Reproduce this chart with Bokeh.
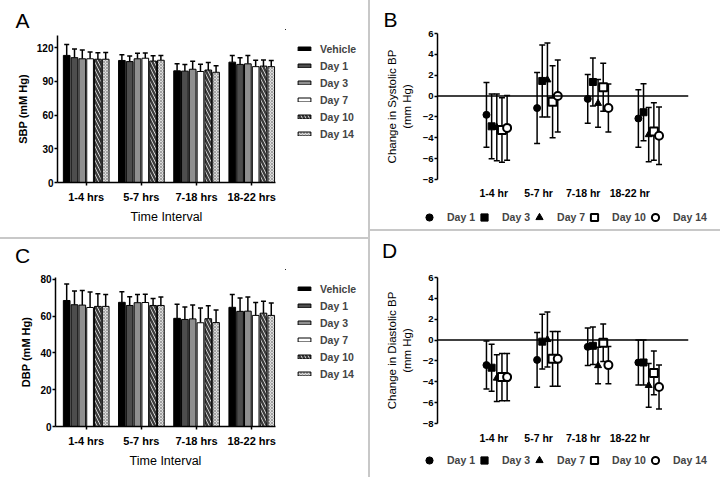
from bokeh.plotting import figure
from bokeh.models import (Range1d, FixedTicker, Whisker, TeeHead, Legend, LegendItem,
                          Span, Div, ColumnDataSource)
from bokeh.layouts import row, column
from bokeh.embed import file_html
from bokeh.resources import INLINE

FONT = "Liberation Sans"

# ---------------- data ----------------
bar_intervals = ["1-4 hrs", "5-7 hrs", "7-18 hrs", "18-22 hrs"]
pt_intervals = ["1-4 hr", "5-7 hr", "7-18 hr", "18-22 hr"]
bar_series = ["Vehicle", "Day 1", "Day 3", "Day 7", "Day 10", "Day 14"]
pt_series = ["Day 1", "Day 3", "Day 7", "Day 10", "Day 14"]

# Panel A: SBP (mM Hg), mean and SD (upper bar)
sbp_vehicle = [113.0, 108.5, 99.3, 107.0]
sbp_day1 = [111.0, 107.5, 99.0, 105.0]
sbp_day3 = [110.0, 110.0, 100.7, 105.5]
sbp_day7 = [110.0, 110.5, 98.7, 103.0]
sbp_day10 = [109.6, 108.0, 100.0, 103.5]
sbp_day14 = [109.6, 108.7, 98.0, 103.0]
sbp_err_vehicle = [9.7, 5.0, 6.2, 6.0]
sbp_err_day1 = [7.7, 5.0, 6.0, 6.0]
sbp_err_day3 = [7.7, 5.0, 7.0, 7.4]
sbp_err_day7 = [6.0, 4.7, 6.5, 5.6]
sbp_err_day10 = [5.7, 4.8, 6.7, 5.4]
sbp_err_day14 = [6.0, 4.3, 5.7, 5.5]

# Panel C: DBP (mM Hg)
dbp_vehicle = [68.5, 67.5, 58.8, 64.8]
dbp_day1 = [66.2, 65.8, 58.2, 62.6]
dbp_day3 = [66.0, 67.3, 58.5, 62.7]
dbp_day7 = [64.7, 67.4, 56.4, 60.4]
dbp_day10 = [65.3, 65.8, 58.6, 61.6]
dbp_day14 = [65.3, 65.8, 56.5, 60.4]
dbp_err_vehicle = [9.0, 5.7, 7.6, 7.0]
dbp_err_day1 = [7.4, 4.8, 6.7, 7.3]
dbp_err_day3 = [8.0, 4.5, 7.6, 7.7]
dbp_err_day7 = [8.4, 4.5, 8.0, 7.0]
dbp_err_day10 = [6.8, 3.8, 7.0, 6.5]
dbp_err_day14 = [6.5, 4.6, 6.8, 6.7]

# Panel B: change in systolic BP (mm Hg), mean and SD
dsbp_day1 = [-1.8, -1.15, -0.27, -2.15]
dsbp_day3 = [-2.9, 1.45, 1.35, -1.55]
dsbp_day7 = [-3.0, 1.55, -0.7, -3.7]
dsbp_day10 = [-3.25, -0.55, 0.85, -3.4]
dsbp_day14 = [-3.05, 0.0, -1.15, -3.8]
dsbp_sd_day1 = [3.1, 3.4, 2.33, 2.75]
dsbp_sd_day3 = [3.1, 3.45, 2.3, 2.73]
dsbp_sd_day7 = [3.2, 3.55, 2.3, 2.6]
dsbp_sd_day10 = [3.1, 3.45, 2.3, 2.75]
dsbp_sd_day14 = [3.1, 3.45, 2.3, 2.75]

# Panel D: change in diastolic BP (mm Hg)
ddbp_day1 = [-2.4, -1.9, -0.65, -2.15]
ddbp_day3 = [-2.65, -0.15, -0.55, -2.15]
ddbp_day7 = [-3.65, 0.05, -2.45, -4.35]
ddbp_day10 = [-3.55, -1.8, -0.25, -3.15]
ddbp_day14 = [-3.55, -1.8, -2.4, -4.5]
ddbp_sd_day1 = [2.3, 2.62, 1.8, 2.15]
ddbp_sd_day3 = [2.25, 2.62, 1.8, 2.15]
ddbp_sd_day7 = [2.25, 2.63, 1.75, 2.1]
ddbp_sd_day10 = [2.27, 2.63, 1.8, 2.1]
ddbp_sd_day14 = [2.27, 2.63, 1.78, 2.1]

bar_yticks_a = [0, 30, 60, 90, 120]
bar_yticks_c = [0, 20, 40, 60, 80]
pt_yticks = [-8, -6, -4, -2, 0, 2, 4, 6]
pt_label_pos = [0.145, 1.03, 1.91, 2.83]

# ---------------- styles ----------------
bar_styles = [
    dict(fill_color="black"),
    dict(fill_color="#4d4d4d"),
    dict(fill_color="#8f8f8f"),
    dict(fill_color="white"),
    dict(fill_color="white", hatch_pattern="\\", hatch_color="#3c3c3c",
         hatch_weight=2.5, hatch_scale=7),
    dict(fill_color="#dcdcdc", hatch_pattern="x", hatch_color="#8a8a8a",
         hatch_weight=0.7, hatch_scale=3),
]
pt_styles = [
    dict(marker="circle", size=7, fill_color="black", line_width=1),
    dict(marker="square", size=7, fill_color="black", line_width=1),
    dict(marker="triangle", size=7, fill_color="black", line_width=1),
    dict(marker="square", size=8, fill_color="white", line_width=2),
    dict(marker="circle", size=8, fill_color="white", line_width=2),
]


def style_axes(p):
    p.grid.visible = False
    p.outline_line_color = None
    p.background_fill_color = "white"
    p.border_fill_color = "white"
    for ax in (p.xaxis[0], p.yaxis[0]):
        ax.axis_line_width = 1.5
        ax.axis_line_color = "black"
        ax.major_tick_line_width = 1.5
        ax.major_tick_out = 3
        ax.major_tick_in = 0
        ax.minor_tick_line_color = None
        ax.major_label_text_font = FONT
        ax.major_label_text_font_style = "bold"
        ax.major_label_text_color = "black"
        ax.axis_label_text_font = FONT
        ax.axis_label_text_color = "black"


def set_letter(p, letter, offset, standoff, valign):
    p.title.text = letter
    p.title.align = "left"
    p.title.offset = offset
    p.title.standoff = standoff
    p.title.vertical_align = valign
    p.title.text_font = FONT
    p.title.text_font_size = "21px"
    p.title.text_font_style = "normal"
    p.title.text_color = "black"


def letter_div(letter, width, height, left, top):
    html = ('<div style="font-family:\'Liberation Sans\',Arial,sans-serif;font-size:21px;'
            'line-height:21px;color:black;padding-left:%dpx;padding-top:%dpx;">%s</div>'
            % (left, top, letter))
    return Div(text=html, width=width, height=height, margin=0)


def legend_fig(width, height, sources, draw_fn, names, orientation, gw, gh, lh,
               standoff, margin):
    # legend-only figure; its glyphs reuse the panel data but the ranges keep them off-frame
    f = figure(width=width, height=height, output_backend="svg", toolbar_location=None,
               x_range=Range1d(100, 101), y_range=Range1d(-1001, -1000),
               x_axis_type=None, y_axis_type=None,
               min_border_left=0, min_border_right=0, min_border_top=0, min_border_bottom=0)
    f.grid.visible = False
    f.outline_line_color = None
    f.border_fill_color = "white"
    f.background_fill_color = "white"
    items = []
    for j, name in enumerate(names):
        r = draw_fn(f, sources[j], j)
        items.append(LegendItem(label=name, renderers=[r]))
    leg = Legend(items=items, location="top_left", orientation=orientation,
                 glyph_width=gw, glyph_height=gh, label_height=lh, spacing=0,
                 padding=0, margin=margin, border_line_color=None, background_fill_alpha=0,
                 label_standoff=standoff, label_text_font=FONT, label_text_font_style="bold",
                 label_text_font_size="10.5px")
    f.add_layout(leg)
    return f


def draw_bar(f, src, j):
    return f.vbar(x="x", top="top", width=0.121, source=src, line_color="black",
                  line_width=1, **bar_styles[j])


def draw_pt(f, src, j):
    return f.scatter(x="x", y="y", source=src, line_color="black", **pt_styles[j])


def bar_panel(width, height, mb, x_range, y_end, yticks, ylabel, means, errs,
              letter=None, letter_cfg=None):
    p = figure(width=width, height=height, output_backend="svg", toolbar_location=None,
               x_range=Range1d(*x_range), y_range=Range1d(0, y_end),
               min_border_left=mb[0], min_border_right=mb[1],
               min_border_top=mb[2], min_border_bottom=mb[3])
    style_axes(p)
    if letter is not None:
        set_letter(p, letter, *letter_cfg)
    pitch = 0.1413
    sources = []
    for j, name in enumerate(bar_series):
        xs = [i + (j - 2.5) * pitch for i in range(len(bar_intervals))]
        src = ColumnDataSource(dict(x=xs, top=means[j],
                                    up=[m + e for m, e in zip(means[j], errs[j])]))
        sources.append(src)
        w = Whisker(source=src, base="x", lower="top", upper="up", line_width=1.5,
                    line_color="black", lower_head=None,
                    upper_head=TeeHead(size=5, line_width=1.5, line_color="black"))
        p.add_layout(w)
        draw_bar(p, src, j)

    p.xaxis.ticker = FixedTicker(ticks=list(range(len(bar_intervals))))
    p.xaxis.major_label_overrides = {i: t for i, t in enumerate(bar_intervals)}
    p.xaxis.major_label_text_font_size = "11px"
    p.xaxis.major_label_standoff = 5
    p.xaxis.axis_label = "Time Interval"
    p.xaxis.axis_label_text_font_size = "12.5px"
    p.xaxis.axis_label_text_font_style = "normal"
    p.xaxis.axis_label_standoff = 4

    p.yaxis.ticker = FixedTicker(ticks=yticks)
    p.yaxis.major_label_text_font_size = "10px"
    p.yaxis.major_label_standoff = 1
    p.yaxis.axis_label = ylabel
    p.yaxis.axis_label_text_font_size = "11px"
    p.yaxis.axis_label_text_font_style = "bold"
    p.yaxis.axis_label_standoff = 5
    return p, sources


def pt_panel(width, height, mb, ylabel, means, sds, label_standoff,
             letter=None, letter_cfg=None):
    p = figure(width=width, height=height, output_backend="svg", toolbar_location=None,
               x_range=Range1d(-0.967, 3.99), y_range=Range1d(-8, 6),
               min_border_left=mb[0], min_border_right=mb[1],
               min_border_top=mb[2], min_border_bottom=mb[3])
    style_axes(p)
    if letter is not None:
        set_letter(p, letter, *letter_cfg)
    p.add_layout(Span(location=0, dimension="width", line_color="black", line_width=1.5))
    sources = []
    for j, name in enumerate(pt_series):
        xs = [i + 0.102 * j for i in range(len(pt_intervals))]
        src = ColumnDataSource(dict(x=xs, y=means[j],
                                    lo=[m - s for m, s in zip(means[j], sds[j])],
                                    hi=[m + s for m, s in zip(means[j], sds[j])]))
        sources.append(src)
        w = Whisker(source=src, base="x", lower="lo", upper="hi", line_width=1.5,
                    line_color="black",
                    upper_head=TeeHead(size=6, line_width=1.5, line_color="black"),
                    lower_head=TeeHead(size=6, line_width=1.5, line_color="black"))
        p.add_layout(w)
        draw_pt(p, src, j)

    p.xaxis.ticker = FixedTicker(ticks=pt_label_pos)
    p.xaxis.major_label_overrides = {v: t for v, t in zip(pt_label_pos, pt_intervals)}
    p.xaxis.axis_line_color = None
    p.xaxis.major_tick_line_color = None
    p.xaxis.major_tick_out = 0
    p.xaxis.major_label_standoff = label_standoff
    p.xaxis.major_label_text_font_size = "10.5px"

    p.yaxis.ticker = FixedTicker(ticks=pt_yticks)
    p.yaxis.major_label_text_font_size = "9.5px"
    p.yaxis.major_label_standoff = 1
    p.yaxis.axis_label = ylabel
    p.yaxis.axis_label_text_font_size = "11.5px"
    p.yaxis.axis_label_text_font_style = "normal"
    p.yaxis.axis_label_standoff = 7
    return p, sources


sbp_means = [sbp_vehicle, sbp_day1, sbp_day3, sbp_day7, sbp_day10, sbp_day14]
sbp_errs = [sbp_err_vehicle, sbp_err_day1, sbp_err_day3, sbp_err_day7, sbp_err_day10, sbp_err_day14]
dbp_means = [dbp_vehicle, dbp_day1, dbp_day3, dbp_day7, dbp_day10, dbp_day14]
dbp_errs = [dbp_err_vehicle, dbp_err_day1, dbp_err_day3, dbp_err_day7, dbp_err_day10, dbp_err_day14]
dsbp_means = [dsbp_day1, dsbp_day3, dsbp_day7, dsbp_day10, dsbp_day14]
dsbp_sds = [dsbp_sd_day1, dsbp_sd_day3, dsbp_sd_day7, dsbp_sd_day10, dsbp_sd_day14]
ddbp_means = [ddbp_day1, ddbp_day3, ddbp_day7, ddbp_day10, ddbp_day14]
ddbp_sds = [ddbp_sd_day1, ddbp_sd_day3, ddbp_sd_day7, ddbp_sd_day10, ddbp_sd_day14]


def spacer(w, h):
    return Div(text="", width=w, height=h, margin=0)


# left column
pA, srcA = bar_panel(285, 237, (57, 10, 35, 55), (-0.52, 3.43), 130.7, bar_yticks_a,
                     "SBP (mM Hg)", sbp_means, sbp_errs, "A", (-42, 8, "bottom"))
legA = legend_fig(83, 208, srcA, draw_bar, bar_series, "vertical", 16, 5, 17, 8, 11)
pC, srcC = bar_panel(285, 209, (55, 10, 9, 51), (-0.556, 3.43), 81, bar_yticks_c,
                     "DBP (mM Hg)", dbp_means, dbp_errs)
legC = legend_fig(83, 208, srcC, draw_bar, bar_series, "vertical", 16, 5, 17, 8, 11)

# right column
pB, srcB = pt_panel(350, 201, (67, 32, 33, 21), "Change in Systolic BP\n(mm Hg)",
                    dsbp_means, dsbp_sds, 7, "B", (-54, 6, "bottom"))
legB = legend_fig(307, 28, srcB, draw_pt, pt_series, "horizontal", 18, 18, 18, 9, 7)
pD, srcD = pt_panel(350, 179, (67, 32, 10, 22), "Change in Diastolic BP\n(mm Hg)",
                    ddbp_means, ddbp_sds, 8)
legD = legend_fig(305, 31, srcD, draw_pt, pt_series, "horizontal", 18, 18, 18, 9, 5)

SEP = "#c8c8c8"
hsepL = Div(text="", width=368, height=2, margin=0, styles={"background-color": SEP})
hsepR = Div(text="", width=350, height=2, margin=0, styles={"background-color": SEP})
vsep = Div(text="", width=2, height=477, margin=0, styles={"background-color": SEP})

left = column(row(pA, column(spacer(83, 29), legA, spacing=0), spacing=0),
              hsepL,
              row(column(letter_div("C", 285, 29, 15, 6), pC, spacing=0),
                  column(spacer(83, 30), legC, spacing=0), spacing=0),
              spacing=0)
right = column(pB, row(spacer(43, 28), legB, spacing=0), hsepR,
               letter_div("D", 350, 36, 12, 9), pD,
               row(spacer(45, 31), legD, spacing=0), spacing=0)
layout = row(left, vsep, right, spacing=0)

open("out.html", "w").write(file_html(layout, INLINE))
